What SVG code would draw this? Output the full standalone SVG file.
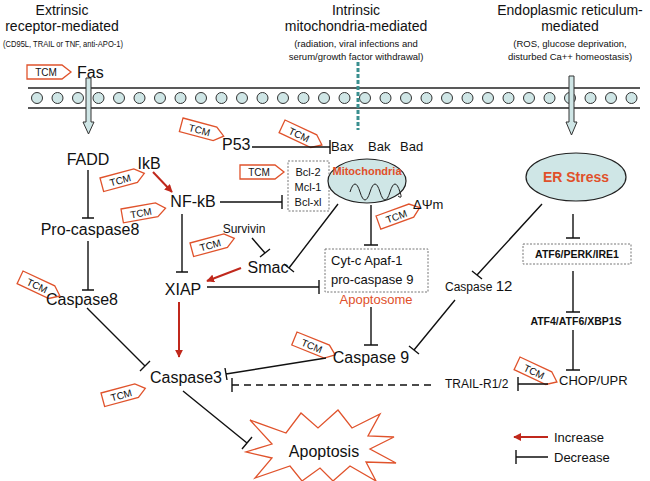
<svg xmlns="http://www.w3.org/2000/svg" xmlns:xlink="http://www.w3.org/1999/xlink" width="650" height="481" viewBox="0 0 650 481">
<style>
text{font-family:"Liberation Sans",Arial,sans-serif;fill:#111}
.h{font-size:14px;text-anchor:middle}
.s{font-size:9.5px;text-anchor:middle}
.n{font-size:16px}
.m{font-size:13px}
.c{stroke:#111;stroke-width:1.4;fill:none}
.r{stroke:#c0281c;stroke-width:2;fill:none}
.tag{fill:#fff;stroke:#e0532c;stroke-width:1.3}
.tt{font-size:10px;text-anchor:middle}
.box{fill:#fff;stroke:#777;stroke-dasharray:2 1.5}
</style>
<defs>
<g id="tcm"><polygon class="tag" points="0,0 35,0 44,7 35,14 0,14"/><text class="tt" x="19" y="11">TCM</text></g>
<marker id="ar" viewBox="0 0 10 10" refX="9" refY="5" markerWidth="4" markerHeight="4" orient="auto"><path d="M0,0L10,5L0,10z" fill="#c0281c"/></marker>
</defs>
<g id="headers">
<text class="h" x="62" y="15">Extrinsic</text><text class="h" x="62" y="31">receptor-mediated</text><text class="s" x="63" y="47" textLength="120" lengthAdjust="spacingAndGlyphs">(CD95L, TRAIL or TNF, anti-APO-1)</text>
<text class="h" x="356" y="15">Intrinsic</text><text class="h" x="356" y="31">mitochondria-mediated</text><text class="s" x="356" y="47">(radiation, viral infections and</text><text class="s" x="356" y="60">serum/growth factor withdrawal)</text>
<text class="h" x="570" y="15">Endoplasmic reticulum-</text><text class="h" x="570" y="31">mediated</text><text class="s" x="570" y="47">(ROS, glucose deprivation,</text><text class="s" x="570" y="60">disturbed Ca++ homeostasis)</text>
</g>
<g id="membrane">
<line x1="28" y1="88" x2="640" y2="88" stroke="#222" stroke-width="1.3"/>
<line x1="28" y1="108" x2="640" y2="108" stroke="#222" stroke-width="1.3"/>
<g fill="#cfe6e6" stroke="#333" stroke-width="1">
<circle cx="37" cy="98" r="5.5"/><circle cx="57.5" cy="98" r="5.5"/><circle cx="78" cy="98" r="5.5"/><circle cx="98.5" cy="98" r="5.5"/><circle cx="119" cy="98" r="5.5"/><circle cx="139.5" cy="98" r="5.5"/><circle cx="160" cy="98" r="5.5"/><circle cx="180.5" cy="98" r="5.5"/><circle cx="201" cy="98" r="5.5"/><circle cx="221.5" cy="98" r="5.5"/><circle cx="242" cy="98" r="5.5"/><circle cx="262.5" cy="98" r="5.5"/><circle cx="283" cy="98" r="5.5"/><circle cx="303.5" cy="98" r="5.5"/><circle cx="324" cy="98" r="5.5"/><circle cx="344.5" cy="98" r="5.5"/><circle cx="365" cy="98" r="5.5"/><circle cx="385.5" cy="98" r="5.5"/><circle cx="406" cy="98" r="5.5"/><circle cx="426.5" cy="98" r="5.5"/><circle cx="447" cy="98" r="5.5"/><circle cx="467.5" cy="98" r="5.5"/><circle cx="488" cy="98" r="5.5"/><circle cx="508.5" cy="98" r="5.5"/><circle cx="529" cy="98" r="5.5"/><circle cx="549.5" cy="98" r="5.5"/><circle cx="570" cy="98" r="5.5"/><circle cx="590.5" cy="98" r="5.5"/><circle cx="611" cy="98" r="5.5"/><circle cx="631.5" cy="98" r="5.5"/>
</g>
<polygon points="86,78 91,78 91,122 94,122 88.5,134 83,122 86,122" fill="#cfe6e6" stroke="#333"/>
<polygon points="569,76 574,76 574,122 577,122 571.5,135 566,122 569,122" fill="#cfe6e6" stroke="#333"/>
<line x1="358" y1="62" x2="358" y2="130" stroke="#3a8f8f" stroke-width="3" stroke-dasharray="4 2"/>
</g>
<g id="tags">
<use href="#tcm" x="27" y="65"/>
<use href="#tcm" transform="translate(183,118) rotate(15)"/>
<use href="#tcm" transform="translate(285,120) rotate(25)"/>
<use href="#tcm" x="240" y="165"/>
<use href="#tcm" transform="translate(100,178) rotate(-15)"/>
<use href="#tcm" transform="translate(121,209) rotate(-10)"/>
<use href="#tcm" transform="translate(190,243) rotate(-15)"/>
<use href="#tcm" transform="translate(23,271) rotate(25)"/>
<use href="#tcm" transform="translate(101,393) rotate(-15)"/>
<use href="#tcm" transform="translate(376,216) rotate(-20)"/>
<use href="#tcm" transform="translate(297,332) rotate(22)"/>
<use href="#tcm" transform="translate(520,357) rotate(25)"/>
</g>
<g id="nodes">
<g id="fas"><text class="n" x="77" y="78">Fas</text></g>
<g id="fadd"><text class="n" x="88" y="165" text-anchor="middle">FADD</text></g>
<g id="procasp8"><text class="n" x="90" y="235" text-anchor="middle">Pro-caspase8</text></g>
<g id="casp8"><text class="n" x="82" y="305" text-anchor="middle">Caspase8</text></g>
<g id="ikb"><text class="n" x="149" y="169" text-anchor="middle">IkB</text></g>
<g id="nfkb"><text class="n" x="193" y="207" text-anchor="middle">NF-kB</text></g>
<g id="p53"><text class="n" x="222" y="150">P53</text></g>
<g id="bax"><text class="m" x="331" y="151">Bax</text><text class="m" x="368" y="151">Bak</text><text class="m" x="400" y="151">Bad</text></g>
<g id="bcl"><rect class="box" x="288" y="161" width="41" height="50"/><text x="308" y="176" font-size="11" text-anchor="middle">Bcl-2</text><text x="308" y="191" font-size="11" text-anchor="middle">Mcl-1</text><text x="308" y="206" font-size="11" text-anchor="middle">Bcl-xl</text></g>
<g id="mito"><ellipse cx="367" cy="181" rx="39" ry="22" fill="#cfe6e6" stroke="#222" stroke-width="1.2"/><text x="367" y="175" font-size="11" font-weight="bold" text-anchor="middle" style="fill:#e0502a">Mitochondria</text><path d="M350,192 q5,-16 10,0 q5,16 10,0 q5,-16 10,0 q5,16 10,0 q5,-16 10,0 q3,8 -2,4" fill="none" stroke="#222"/></g>
<g id="dpsi"><text class="m" x="413" y="209">ΔΨm</text></g>
<g id="apoptosome"><rect class="box" x="325" y="249" width="103" height="43"/><text class="m" x="331" y="265">Cyt-c  Apaf-1</text><text class="m" x="331" y="284">pro-caspase 9</text><text x="376" y="304" font-size="13" text-anchor="middle" style="fill:#e0502a">Apoptosome</text></g>
<g id="survivin"><text x="244" y="233" font-size="12" text-anchor="middle">Survivin</text></g>
<g id="smac"><text class="n" x="268" y="273" text-anchor="middle">Smac</text></g>
<g id="xiap"><text class="n" x="183" y="295" text-anchor="middle">XIAP</text></g>
<g id="casp3"><text class="n" x="186" y="383" text-anchor="middle">Caspase3</text></g>
<g id="casp9"><text class="n" x="371" y="363" text-anchor="middle">Caspase 9</text></g>
<g id="casp12"><text x="445" y="291" font-size="12">Caspase <tspan font-size="15">12</tspan></text></g>
<g id="er"><ellipse cx="576" cy="177" rx="50" ry="24" fill="#cfe6e6" stroke="#222" stroke-width="1.2"/><text x="576" y="182" font-size="14" font-weight="bold" text-anchor="middle" style="fill:#e0502a">ER Stress</text></g>
<g id="atf6"><rect class="box" x="523" y="244" width="108" height="20"/><text x="577" y="258" font-size="10.5" font-weight="bold" text-anchor="middle">ATF6/PERK/IRE1</text></g>
<g id="atf4"><text x="576" y="325" font-size="10.5" font-weight="bold" text-anchor="middle">ATF4/ATF6/XBP1S</text></g>
<g id="chop"><text class="m" x="559" y="385">CHOP/UPR</text></g>
<g id="trail"><text x="445" y="388" font-size="12">TRAIL-R1/2</text></g>
<g id="apoptosis"><polygon points="250,420 286,433 301,413 318,428 338,410 352,428 380,414 368,436 394,437 370,449 396,463 366,462 376,481 350,466 333,481 320,468 302,481 290,466 255,478 272,458 246,452 272,444" fill="#fff" stroke="#e0532c" stroke-width="1.3"/><text class="n" x="324" y="457" text-anchor="middle">Apoptosis</text></g>
</g>
<g id="connectors">
<path class="c" d="M88,170V218M82,218H94"/>
<path class="c" d="M88,241V290M82,290H94"/>
<path class="c" d="M252,147H330M330,140V154"/>
<path class="c" d="M220,202H282M282,195V209"/>
<path class="c" d="M182,214V272M176,272H188"/>
<path class="c" d="M207,287H319M319,280V294"/>
<path class="c" d="M338,204L289,268M284,264L294,272"/>
<path class="c" d="M252,238L265,253M260,257L270,249"/>
<path class="c" d="M371,205V245M364,245H378"/>
<path class="c" d="M371,307V345M364,345H378"/>
<path class="c" d="M87,308L145,366M140,371L150,361"/>
<path class="c" d="M326,358L226,374M225,368L227,380"/>
<path class="c" d="M183,391L247,443M242,449L252,437"/>
<path class="c" d="M232,385H432" stroke-dasharray="7 5"/>
<path class="c" d="M232,378V392"/>
<path class="c" d="M548,384H518M518,377V391"/>
<path class="c" d="M542,204L477,275M472,271L482,279"/>
<path class="c" d="M455,300L414,350M409,346L419,354"/>
<path class="c" d="M573,214V238M566,238H580"/>
<path class="c" d="M573,271V312M566,312H580"/>
<path class="c" d="M573,330V370M566,370H580"/>
<path class="r" d="M153,172L172,192" marker-end="url(#ar)"/>
<path class="r" d="M241,268L207,281" marker-end="url(#ar)"/>
<path class="r" d="M179,302V357" marker-end="url(#ar)"/>
</g>
<g id="legend">
<path class="r" d="M548,437H514" marker-end="url(#ar)"/><text x="554" y="442" font-size="13">Increase</text>
<path class="c" d="M548,457H516M516,450V464"/><text x="554" y="462" font-size="13">Decrease</text>
</g>
</svg>
